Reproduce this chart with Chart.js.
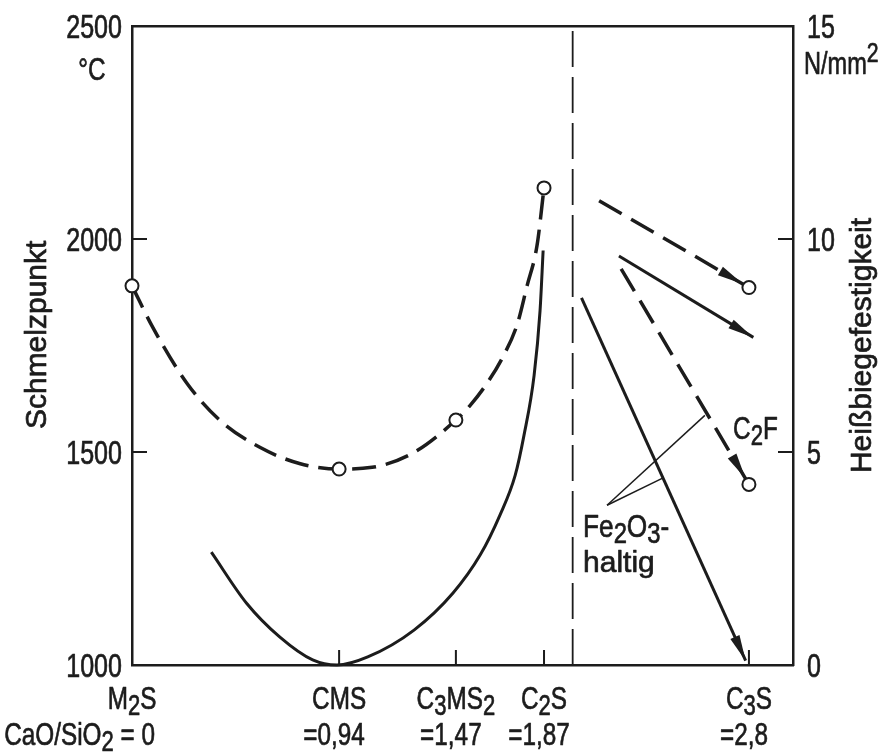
<!DOCTYPE html>
<html>
<head>
<meta charset="utf-8">
<script src="https://cdn.jsdelivr.net/npm/chart.js@4.4.1/dist/chart.umd.min.js"></script>
<style>
  html, body { margin: 0; padding: 0; background: #fff; }
  #wrap { width: 888px; height: 756px; }
</style>
</head>
<body>
<div id="wrap"><canvas id="myChart" width="888" height="756"></canvas></div>
<script>
// compounds along the CaO/SiO2 axis
const compounds = ['M₂S', 'CMS', 'C₃MS₂', 'C₂S', 'C₃S'];
const ratioLabels = ['CaO/SiO₂ = 0', '=0,94', '=1,47', '=1,87', '=2,8'];
const ratios = [0, 0.94, 1.47, 1.87, 2.8];

const meltTicks = [1000, 1500, 2000, 2500];
const strengthTicks = [0, 5, 10, 15];

// melting points of the pure compounds (°C)
const meltX = [0, 0.94, 1.47, 1.87];
const meltPoints = [1890, 1460, 1575, 2120];

// dashed melting-point curve
const meltCurveX = [0, 0.095, 0.25, 0.40, 0.58, 0.76, 0.94, 1.09, 1.28, 1.47, 1.534, 1.611, 1.684, 1.748, 1.793, 1.838, 1.87];
const meltCurveY = [1890, 1792, 1661, 1574, 1511, 1473, 1460, 1464, 1499, 1575, 1609, 1661, 1724, 1799, 1890, 1984, 2120];

// hot bending strength, N/mm²
const strengthX = [0.36, 0.52, 0.67, 0.82, 0.93, 1.07, 1.28, 1.457, 1.58, 1.67, 1.739, 1.779, 1.825, 1.852, 1.866];
const strengthY = [2.65, 1.45, 0.66, 0.12, 0.0, 0.19, 0.82, 1.69, 2.58, 3.52, 4.45, 5.39, 6.80, 8.32, 9.73];

// strength trends towards C3S (start, end)
const trendAX = [2.12, 2.8],   trendAY = [10.9, 8.86];
const trendBX = [2.21, 2.82],  trendBY = [9.6, 7.69];
const trendCX = [2.22, 2.8],   trendCY = [9.3, 4.24];
const trendDX = [2.04, 2.785], trendDY = [8.62, 0.1];

// divider between the two regions
const dividerX = [2.0, 2.0], dividerY = [1000, 2500];

// Fe2O3 leader lines
const leaderAX = [2.156, 2.60],  leaderAY = [3.75, 5.86];
const leaderBX = [2.156, 2.406], leaderBY = [3.75, 4.38];

const ink = '#1c1c1c';
const face = '"Liberation Sans", Arial, sans-serif';
const NARROW = 0.76;   // horizontal squeeze for the condensed lettering

const zip = (xs, ys) => xs.map((x, i) => ({ x, y: ys[i] }));

// text with subscript / superscript digits drawn as offset runs
function drawRich(ctx, text, x, y, size, align, sx = NARROW) {
  const runs = [];
  for (const ch of text) {
    let kind = 'n', c = ch;
    const k = '₀₁₂₃₄₅₆₇₈₉'.indexOf(ch);
    if (k >= 0) { kind = 'sub'; c = String(k); }
    else if (ch === '²') { kind = 'sup'; c = '2'; }
    const last = runs[runs.length - 1];
    if (last && last.kind === kind) last.t += c; else runs.push({ kind, t: c });
  }
  const fontFor = kind => (kind === 'n' ? size : Math.round(size * 0.9)) + 'px ' + face;
  let w = 0;
  runs.forEach(r => { ctx.font = fontFor(r.kind); r.w = ctx.measureText(r.t).width * sx; w += r.w; });
  let cx = align === 'center' ? x - w / 2 : align === 'right' ? x - w : x;
  const base = y + size * 0.36;
  ctx.textAlign = 'left';
  ctx.textBaseline = 'alphabetic';
  ctx.strokeStyle = ctx.fillStyle;
  ctx.lineWidth = 0.7;
  ctx.lineJoin = 'round';
  runs.forEach(r => {
    ctx.font = fontFor(r.kind);
    const dy = r.kind === 'sub' ? size * 0.2 : r.kind === 'sup' ? -size * 0.4 : 0;
    ctx.save();
    ctx.translate(cx, base + dy);
    ctx.scale(sx, 1);
    ctx.fillText(r.t, 0, 0);
    ctx.strokeText(r.t, 0, 0);
    ctx.restore();
    cx += r.w;
  });
}

const arrowHeads = {
  id: 'arrowHeads',
  afterDatasetsDraw(chart) {
    const ctx = chart.ctx;
    chart.data.datasets.forEach((ds, i) => {
      if (!ds.arrow) return;
      const pts = chart.getDatasetMeta(i).data;
      const a = pts[pts.length - 2], b = pts[pts.length - 1];
      const ang = Math.atan2(b.y - a.y, b.x - a.x);
      const inset = ds.arrowInset || 0;
      ctx.save();
      ctx.translate(b.x - Math.cos(ang) * inset, b.y - Math.sin(ang) * inset);
      ctx.rotate(ang);
      ctx.beginPath();
      ctx.moveTo(0, 0);
      ctx.lineTo(-26, -5);
      ctx.lineTo(-26, 5);
      ctx.closePath();
      ctx.fillStyle = ink;
      ctx.fill();
      ctx.restore();
    });
  }
};

const decorations = {
  id: 'decorations',
  afterDraw(chart) {
    const { ctx, chartArea: ca, scales: { x, y, y1 } } = chart;
    ctx.save();
    // inward tick marks
    ctx.strokeStyle = ink;
    ctx.lineWidth = 2;
    ctx.beginPath();
    meltTicks.slice(1, -1).forEach(v => {
      const py = y.getPixelForValue(v);
      ctx.moveTo(ca.left, py); ctx.lineTo(ca.left + 15, py);
    });
    strengthTicks.slice(1, -1).forEach(v => {
      const py = y1.getPixelForValue(v);
      ctx.moveTo(ca.right, py); ctx.lineTo(ca.right - 15, py);
    });
    ratios.slice(1).forEach(v => {
      const px = x.getPixelForValue(v);
      ctx.moveTo(px, ca.bottom); ctx.lineTo(px, ca.bottom - 15);
    });
    ctx.stroke();

    ctx.fillStyle = ink;
    // tick labels
    meltTicks.forEach(v => drawRich(ctx, String(v), ca.left - 10, y.getPixelForValue(v), 33, 'right'));
    strengthTicks.forEach(v => drawRich(ctx, String(v), ca.right + 14, y1.getPixelForValue(v), 33, 'left'));

    // compound names and CaO/SiO2 ratios
    compounds.forEach((name, i) => {
      const px = x.getPixelForValue(ratios[i]);
      drawRich(ctx, name, px, ca.bottom + 32, 32, 'center');
      if (i === 0) drawRich(ctx, ratioLabels[i], px + 23, ca.bottom + 68, 32, 'right');
      else drawRich(ctx, ratioLabels[i], px - 5, ca.bottom + 68, 32, 'center');
    });

    // units
    drawRich(ctx, '°C', ca.left - 40, y.getPixelForValue(2500) + 42, 32, 'center');
    drawRich(ctx, 'N/mm²', ca.right + 11, y1.getPixelForValue(15) + 37, 31, 'left');

    // axis titles
    ctx.save();
    ctx.translate(35, y.getPixelForValue(1775));
    ctx.rotate(-Math.PI / 2);
    drawRich(ctx, 'Schmelzpunkt', 0, 0, 30, 'center', 1);
    ctx.restore();
    ctx.save();
    ctx.translate(860, y1.getPixelForValue(7.5));
    ctx.rotate(-Math.PI / 2);
    drawRich(ctx, 'Heißbiegefestigkeit', 0, 0, 30, 'center', 1);
    ctx.restore();

    // annotations
    drawRich(ctx, 'C₂F', x.getPixelForValue(2.728), y1.getPixelForValue(5.58), 32, 'left');
    drawRich(ctx, 'Fe₂O₃-', x.getPixelForValue(2.047), y1.getPixelForValue(3.28), 32, 'left', 0.82);
    drawRich(ctx, 'haltig', x.getPixelForValue(2.047), y1.getPixelForValue(2.44), 30, 'left', 1);
    ctx.restore();
  }
};

const line = (data, axis, extra) => Object.assign({
  data, yAxisID: axis, borderColor: ink, backgroundColor: ink,
  borderWidth: 3, pointRadius: 0, fill: false, clip: false
}, extra);

const ctx = document.getElementById('myChart').getContext('2d');
new Chart(ctx, {
  type: 'line',
  data: {
    datasets: [
      line(zip(meltX, meltPoints), 'y', {
        showLine: false, pointRadius: 6.5, pointBorderWidth: 2,
        pointBackgroundColor: '#fff', pointBorderColor: ink
      }),
      line(zip(meltCurveX, meltCurveY), 'y', { borderWidth: 3.5, borderDash: [24, 10], cubicInterpolationMode: 'monotone' }),
      line(zip(strengthX, strengthY), 'y1', { cubicInterpolationMode: 'monotone' }),
      line(zip(trendAX, trendAY), 'y1', {
        borderWidth: 3.5, borderDash: [26, 11], arrow: true, arrowInset: 7,
        pointRadius: [0, 6.5], pointBorderWidth: 2, pointBackgroundColor: '#fff', pointBorderColor: ink
      }),
      line(zip(trendBX, trendBY), 'y1', { arrow: true }),
      line(zip(trendCX, trendCY), 'y1', {
        borderWidth: 3.5, borderDash: [26, 11], arrow: true, arrowInset: 7,
        pointRadius: [0, 6.5], pointBorderWidth: 2, pointBackgroundColor: '#fff', pointBorderColor: ink
      }),
      line(zip(trendDX, trendDY), 'y1', { arrow: true }),
      line(zip(leaderAX, leaderAY), 'y1', { borderWidth: 1.5 }),
      line(zip(leaderBX, leaderBY), 'y1', { borderWidth: 1.5 }),
      line(zip(dividerX, dividerY), 'y', { borderWidth: 1.8, borderDash: [36, 10] })
    ]
  },
  options: {
    responsive: false,
    animation: false,
    layout: { padding: { top: 26 } },
    plugins: { legend: { display: false }, tooltip: { enabled: false } },
    scales: {
      x: {
        type: 'linear', min: 0, max: 3,
        ticks: { display: false },
        grid: { display: false, drawTicks: false },
        border: { color: ink, width: 2.5 },
        afterFit: s => { s.height = 91; }
      },
      xTop: {
        type: 'linear', axis: 'x', position: 'top', min: 0, max: 3,
        ticks: { display: false },
        grid: { display: false, drawTicks: false },
        border: { color: ink, width: 2.5 },
        afterFit: s => { s.height = 0; }
      },
      y: {
        position: 'left', min: 1000, max: 2500,
        ticks: { display: false },
        grid: { display: false, drawTicks: false },
        border: { color: ink, width: 2.5 },
        afterFit: s => { s.width = 132; }
      },
      y1: {
        position: 'right', min: 0, max: 15,
        ticks: { display: false },
        grid: { display: false, drawTicks: false },
        border: { color: ink, width: 2.5 },
        afterFit: s => { s.width = 95; }
      }
    }
  },
  plugins: [arrowHeads, decorations]
});
</script>
</body>
</html>
